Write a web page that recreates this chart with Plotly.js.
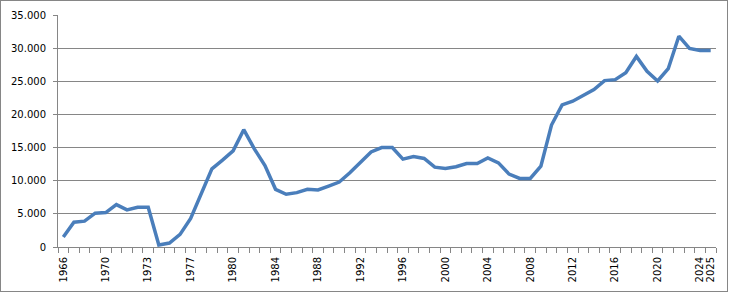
<!DOCTYPE html>
<html>
<head>
<meta charset="utf-8">
<script src="https://cdn.plot.ly/plotly-3.0.1.min.js"></script>
<style>
  html, body { margin: 0; padding: 0; background: #fff; }
  #wrap { position: relative; width: 732px; height: 292px; }
  #chart { position: absolute; left: 0; top: 0; width: 732px; height: 292px; }
  #frame { position: absolute; left: 0; top: 0; width: 726px; height: 290px; border: 1px solid #868686; pointer-events: none; }
</style>
</head>
<body>
<div id="wrap"><div id="chart"></div><div id="frame"></div></div>
<script>
// Category labels (62 categories on the axis)
const categories = [
  "1966","1967","1968","1969","1970","1971","1972","1972b","1973",
  "1974","1975","1976","1977","1978","1979","1979b","1980",
  "1981","1982","1983","1984","1985","1986","1987","1988","1989",
  "1990","1991","1992","1993","1994","1995","1996","1997","1998",
  "1999","2000","2001","2002","2003","2004","2005","2006","2007",
  "2008","2009","2010","2011","2012","2013","2014","2015","2016",
  "2017","2018","2019","2020","2021","2022","2023","2024","2025"
];
const values = [
  1500, 3750, 3900, 5100, 5200, 6400, 5600, 6000, 6000,
  300, 600, 1900, 4300, 8000, 11800, 13100, 14500,
  17700, 14800, 12300, 8700, 7950, 8200, 8700, 8600, 9200,
  9800, 11200, 12800, 14350, 15000, 15000, 13250, 13650, 13350,
  12050, 11850, 12100, 12600, 12600, 13450, 12700, 11000, 10350,
  10350, 12200, 18400, 21450, 22000, 22950, 23750, 25100, 25250,
  26300, 28750, 26500, 25050, 26900, 31800, 29950, 29650, 29650
];
const shownLabels = ["1966","1970","1973","1977","1980","1984","1988","1992","1996","2000","2004","2008","2012","2016","2020","2024","2025"];
const yTicks = [0, 5000, 10000, 15000, 20000, 25000, 30000, 35000];

const xIdx = categories.map((c, i) => i);
const tickIdx = shownLabels.map(l => categories.indexOf(l));

const grey = '#868686';
const trace = {
  x: xIdx, y: values, type: 'scatter', mode: 'lines',
  line: { color: '#4a7ebb', width: 3.5 },
  hoverinfo: 'skip'
};
const layout = {
  width: 732, height: 292,
  margin: { l: 58, r: 16, t: 15, b: 45 },
  paper_bgcolor: '#fff', plot_bgcolor: '#fff',
  separators: ',.',
  showlegend: false,
  font: { family: 'DejaVu Sans, Verdana, sans-serif', size: 10, color: '#000' },
  xaxis: {
    range: [-0.5, categories.length - 0.5],
    tickmode: 'array', tickvals: tickIdx, ticktext: shownLabels,
    tickangle: -90, ticks: '', showgrid: false, zeroline: false,
    showline: true, linecolor: grey, linewidth: 1,
    ticklabelstandoff: 5,
    tickfont: { size: 10 },
    minor: { tick0: -0.5, dtick: 1, ticks: 'outside', ticklen: 5, tickcolor: grey, tickwidth: 1, showgrid: false }
  },
  yaxis: {
    range: [0, 35000], tickmode: 'array', tickvals: yTicks,
    tickformat: ',d',
    ticks: 'outside', ticklen: 4, tickcolor: grey,
    ticklabelstandoff: 5,
    showgrid: true, gridcolor: grey, gridwidth: 1,
    zeroline: false, showline: true, linecolor: grey, linewidth: 1,
    tickfont: { size: 10 }
  }
};
Plotly.newPlot('chart', [trace], layout, { staticPlot: true, displayModeBar: false });
</script>
</body>
</html>
